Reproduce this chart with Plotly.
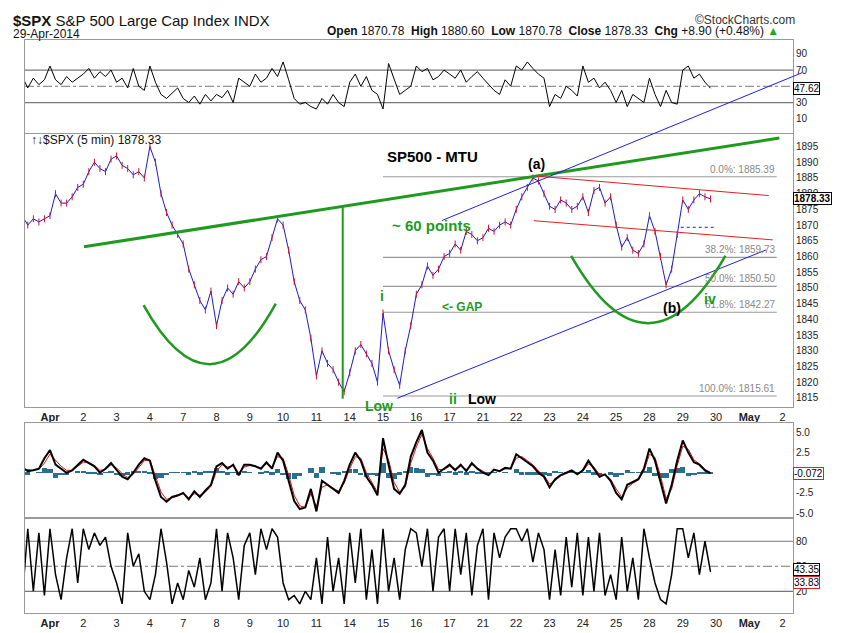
import plotly.graph_objects as go
from plotly.subplots import make_subplots

day_labels = ["<b>Apr</b>","2","3","4","7","8","9","10","11","14","15","16","17","21","22","23","24","25","28","29","30","<b>May</b>","2"]

price = [1872,1873,1870,1872,1871,1872,
 1873,1880,1877,1877,1879,1882,
 1883,1887,1890,1888,1887,1891,
 1892,1889,1888,1886,1887,1885,
 1895,1890,1880,1874,1870,1867,
 1864,1856,1851,1846,1843,1849,
 1838,1846,1850,1848,1852,1850,
 1852,1856,1859,1860,1866,1872,
 1870,1862,1852,1846,1843,1834,
 1822,1830,1826,1824,1820,1817,
 1823,1830,1832,1829,1826,1820,
 1842,1830,1824,1819,1830,1838,
 1848,1851,1857,1854,1856,1860,
 1861,1864,1862,1868,1867,1865,
 1866,1869,1868,1870,1871,1870,
 1875,1879,1882,1885,1884,1880,
 1876,1875,1878,1877,1875,1876,
 1879,1874,1881,1882,1877,1879,
 1870,1863,1866,1862,1861,1864,
 1873,1868,1860,1851,1856,1867,
 1878,1875,1878,1880,1879,1878.33]

rsi = [55,62,48,60,52,58, 75,58,52,62,55,60, 65,72,60,68,62,70, 55,60,48,72,50,45,
 75,55,40,35,42,48, 35,30,38,28,40,32, 40,36,45,30,60,55, 50,65,55,60,72,62,
 80,58,35,28,30,25, 22,35,28,40,30,25, 55,65,50,62,45,40, 22,78,60,40,45,50,
 75,68,72,58,62,70, 65,60,70,55,62,68, 60,52,45,40,58,50, 75,70,80,72,65,60,
 25,40,35,50,45,38, 75,55,60,48,55,45, 30,45,25,40,35,30, 60,40,25,45,30,28,
 70,75,60,65,55,47.62]

macd = [-1,0.7,0.2,0.3,0.5,1.8, 2.8,1,0.5,0,0.3,1, 1.6,1.2,0.8,0,0.5,1.2,
 0.3,-0.5,-0.8,0,1,1.8, 1.5,-1,-3,-3.6,-3,-2.8, -2.5,-3.3,-2.3,-3,-2.2,-1.5,
 0.8,1.2,0.5,1,-0.3,1, 1,0.8,0.5,1.3,0.5,2.5, 1.5,-1,-3.5,-4.5,-4.3,-2,
 -4.8,-1,-1.5,-2,-2.5,-1, 1,2.5,1.5,-0.5,-1.5,-2.8, 4.3,1,-2,-2.6,-1.5,2,
 3.8,5.3,2.5,1.5,0,0.5, 1,0.3,1,0.2,1.2,0.5, 0,-0.3,0.4,0.2,0.6,0.5,
 2.3,1.8,1.3,0.8,0,-0.5, -1.8,-0.8,-0.3,0,0.3,-0.2, 0.3,1.5,0.5,-0.5,-0.2,-1,
 -2.5,-3.3,-1.5,-1.2,-0.8,0.5, 3,1.5,-1,-3.8,-1.5,1.5, 4,2.5,1.3,1.0,0.3,-0.072]

signal = [-0.8,0.2,0.4,0.3,0.4,1.2, 2.3,1.6,0.8,0.3,0.3,0.8, 1.3,1.3,0.9,0.3,0.4,1.0,
 0.6,-0.1,-0.6,-0.2,0.7,1.5, 1.6,-0.3,-2.4,-3.3,-3.1,-2.9, -2.6,-3.1,-2.6,-2.8,-2.4,-1.7,
 0.2,1.0,0.7,0.9,0.0,0.7, 0.9,0.8,0.6,1.1,0.7,2.0, 1.8,-0.3,-2.8,-4.1,-4.3,-2.6,
 -4.2,-1.8,-1.5,-1.9,-2.3,-1.3, 0.5,2.0,1.8,0.0,-1.2,-2.4, 3.0,1.6,-1.2,-2.4,-1.8,1.2,
 3.2,4.8,3.0,1.8,0.4,0.4, 0.8,0.5,0.8,0.4,1.0,0.6, 0.1,-0.2,0.3,0.2,0.5,0.5,
 1.8,2.0,1.5,1.0,0.2,-0.3, -1.4,-1.0,-0.4,-0.1,0.2,-0.1, 0.2,1.1,0.7,-0.2,-0.2,-0.8,
 -2.0,-3.0,-1.9,-1.3,-0.9,0.2, 2.3,1.9,-0.4,-3.2,-2.0,0.9, 3.3,2.9,1.6,1.1,0.4,0.05]

stoch = [70,10,95,20,90,15, 95,40,10,60,95,30, 95,70,90,75,85,50, 30,5,90,50,65,20,
 10,40,95,55,5,30, 10,45,25,60,10,30, 95,20,90,60,10,75, 90,40,95,70,95,85,
 30,10,15,5,20,10, 60,5,85,20,60,5, 90,30,95,10,70,5, 95,20,60,10,70,95,
 90,50,95,20,85,95, 20,95,40,90,15,75, 95,10,90,60,85,95, 95,80,95,55,90,70,
 10,70,15,85,25,90, 15,85,20,90,15,40, 10,85,20,60,10,95, 60,30,10,5,40,95,
 95,60,90,40,80,43.35]

n = len(price)
xs = [-1 + i / 6 for i in range(n)]
hist = [m - s for m, s in zip(macd, signal)]

fig = make_subplots(rows=4, cols=1, shared_xaxes=False, vertical_spacing=0)
fig.add_trace(go.Scatter(x=xs, y=rsi, mode="lines", line=dict(color="black", width=1)), row=1, col=1)
fig.add_trace(go.Scatter(x=xs, y=price, mode="lines+markers", line=dict(color="#1a1ad0", width=1),
                         marker=dict(symbol="line-ns", size=5, color="#d01030", line=dict(width=1, color="#d01030"))), row=2, col=1)
fig.add_trace(go.Bar(x=xs, y=hist, marker=dict(color="#2a6f8f", line=dict(width=0)), width=0.16), row=3, col=1)
fig.add_trace(go.Scatter(x=xs, y=signal, mode="lines", line=dict(color="#e01010", width=1)), row=3, col=1)
fig.add_trace(go.Scatter(x=xs, y=macd, mode="lines", line=dict(color="black", width=2)), row=3, col=1)
fig.add_trace(go.Scatter(x=xs, y=stoch, mode="lines", line=dict(color="black", width=1.5)), row=4, col=1)

X0, X1 = -0.75, 22.31
doms = [[0.837, 1.0], [0.360, 0.836], [0.166, 0.332], [0.0, 0.166]]
yr = [[-8, 107], [1812.2, 1899], [-5.6, 6.2], [-6, 108]]
for i in range(4):
    sx = "xaxis" if i == 0 else f"xaxis{i+1}"
    sy = "yaxis" if i == 0 else f"yaxis{i+1}"
    fig.layout[sy].update(domain=doms[i], range=yr[i], side="right", showgrid=False, zeroline=False,
                          showline=True, mirror=True, linecolor="#999", ticks="", tickfont=dict(size=10, color="#222"))
    fig.layout[sx].update(range=[X0, X1], showgrid=False, zeroline=False, showline=True, mirror=True,
                          linecolor="#999", tickvals=list(range(23)), ticktext=day_labels,
                          showticklabels=(i in (1, 3)), tickfont=dict(size=11, color="#222"), ticks="")
fig.layout.yaxis.update(tickvals=[10, 30, 70, 90])
fig.layout.yaxis2.update(tickvals=list(range(1815, 1896, 5)))
fig.layout.yaxis3.update(tickvals=[-5, -2.5, 2.5, 5], ticktext=["-5.0", "-2.5", "2.5", "5.0"])
fig.layout.yaxis4.update(tickvals=[20, 50, 80])

shapes = []
for lv in (70, 30):
    shapes.append(dict(type="line", xref="x", yref="y", x0=X0, x1=X1, y0=lv, y1=lv, line=dict(color="#777", width=1.2), layer="below"))
shapes.append(dict(type="line", xref="x", yref="y", x0=X0, x1=X1, y0=50, y1=50, line=dict(color="#777", width=1, dash="dashdot"), layer="below"))
for lv in (80, 20):
    shapes.append(dict(type="line", xref="x4", yref="y4", x0=X0, x1=X1, y0=lv, y1=lv, line=dict(color="#777", width=1.2), layer="below"))
shapes.append(dict(type="line", xref="x4", yref="y4", x0=X0, x1=X1, y0=50, y1=50, line=dict(color="#777", width=1, dash="dashdot"), layer="below"))

fib = [(1885.39, "0.0%: 1885.39"), (1859.73, "38.2%: 1859.73"), (1850.50, "50.0%: 1850.50"),
       (1842.27, "61.8%: 1842.27"), (1815.61, "100.0%: 1815.61")]
ann = []
for v, t in fib:
    shapes.append(dict(type="line", xref="x2", yref="y2", x0=10.0, x1=21.82, y0=v, y1=v, line=dict(color="#999", width=1.2), layer="below"))
    ann.append(dict(x=21.82, y=v, xref="x2", yref="y2", text=t, showarrow=False, xanchor="right", yanchor="bottom",
                    font=dict(size=10, color="#888")))

shapes += [
    dict(type="line", xref="x2", yref="y2", x0=1.02, y0=1863.1, x1=21.9, y1=1897.7, line=dict(color="#1e9a1e", width=3)),
    dict(type="line", xref="x2", yref="y2", x0=10.43, y0=1814.9, x1=21.5, y1=1862.1, line=dict(color="#2020e0", width=1)),
    dict(type="line", xref="paper", yref="paper", x0=0.543, y0=0.685, x1=1.012, y1=0.943, line=dict(color="#2020e0", width=1)),
    dict(type="line", xref="x2", yref="y2", x0=14.59, y0=1885.6, x1=21.58, y1=1879.4, line=dict(color="#e02020", width=1)),
    dict(type="line", xref="x2", yref="y2", x0=14.53, y0=1871.4, x1=21.7, y1=1865.3, line=dict(color="#e02020", width=1)),
    dict(type="line", xref="x2", yref="y2", x0=18.94, y0=1869.3, x1=19.95, y1=1869.3, line=dict(color="#2020e0", width=1, dash="dot")),
    dict(type="line", xref="x2", yref="y2", x0=8.79, y0=1814.7, x1=8.79, y1=1875.7, line=dict(color="#1e9a1e", width=2)),
    dict(type="path", xref="x2", yref="y2", path="M 2.81 1844.5 Q 4.8 1806.7 6.78 1845", line=dict(color="#1e9a1e", width=2.5)),
    dict(type="path", xref="x2", yref="y2", path="M 15.65 1860.2 Q 17.95 1817.4 20.28 1860.2", line=dict(color="#1e9a1e", width=2.5)),
]

G = "#1e9a1e"
def a(x, y, t, color="black", size=13, bold=True, **kw):
    ann.append(dict(x=x, y=y, xref="x2", yref="y2", text=f"<b>{t}</b>" if bold else t, showarrow=False,
                    font=dict(size=size, color=color, family="Liberation Sans Narrow, Arial Narrow, Liberation Sans"), **kw))
a(11.5, 1891.9, "SP500 - MTU", size=15)
a(14.6, 1889.6, "(a)", size=14)
a(10.2, 1870, "~ 60 points", color=G, size=15, xanchor="left")
a(9.96, 1847.5, "i", color=G, size=14)
a(11.7, 1844, "<- GAP", color=G, size=12, xanchor="left")
a(9.87, 1812.3, "Low", color=G, size=14)
a(12.1, 1814.7, "ii", color=G, size=14)
a(12.96, 1814.7, "Low", size=14)
a(18.69, 1843.5, "(b)", size=14)
a(19.83, 1846.6, "iv", color=G, size=14)

def p(x, y, t, size=12, xa="left", color="#111", **kw):
    ann.append(dict(x=x, y=y, xref="paper", yref="paper", text=t, showarrow=False, xanchor=xa, yanchor="middle",
                    font=dict(size=size, color=color, family="Liberation Sans Narrow, Arial Narrow, Liberation Sans"), **kw))
p(-0.018, (616 - 12) / 584, "<b>$SPX</b> S&P 500 Large Cap Index INDX", size=15)
p(-0.018, (616 - 26) / 584, "29-Apr-2014", size=12)
p(1.005, (616 - 12) / 584, "©StockCharts.com", size=12, xa="right", color="#333")
p(0.985, (616 - 23) / 584, "<b>Open</b> 1870.78  <b>High</b> 1880.60  <b>Low</b> 1870.78  <b>Close</b> 1878.33  <b>Chg</b> +8.90 (+0.48%) <span style='color:#2a2'>▲</span>", size=12, xa="right")
p(0.005, (616 - 134) / 584, "↑↓$SPX (5 min) 1878.33", size=12)

def box(yref, v, t, color="black", ys=0):
    ann.append(dict(x=1.0, y=v, xref="paper", yref=yref, text=t, showarrow=False, xanchor="left", yshift=ys,
                    font=dict(size=10, color="black"), bgcolor="white", bordercolor=color, borderwidth=1, borderpad=0))
box("y", 47.62, "47.62")
box("y2", 1878.33, "<b>1878.33</b>")
box("y3", -0.072, "-0.072", "#e02020")
box("y4", 43.35, "43.35", ys=2)
box("y4", 33.83, "33.83", "#e02020", ys=-3)

fig.update_layout(width=850, height=633, margin=dict(l=17, r=65, t=32, b=17), showlegend=False,
                  plot_bgcolor="white", paper_bgcolor="white", shapes=shapes, annotations=ann,
                  font=dict(family="Liberation Sans Narrow, Liberation Sans"), bargap=0)
fig.write_html("out.html")
